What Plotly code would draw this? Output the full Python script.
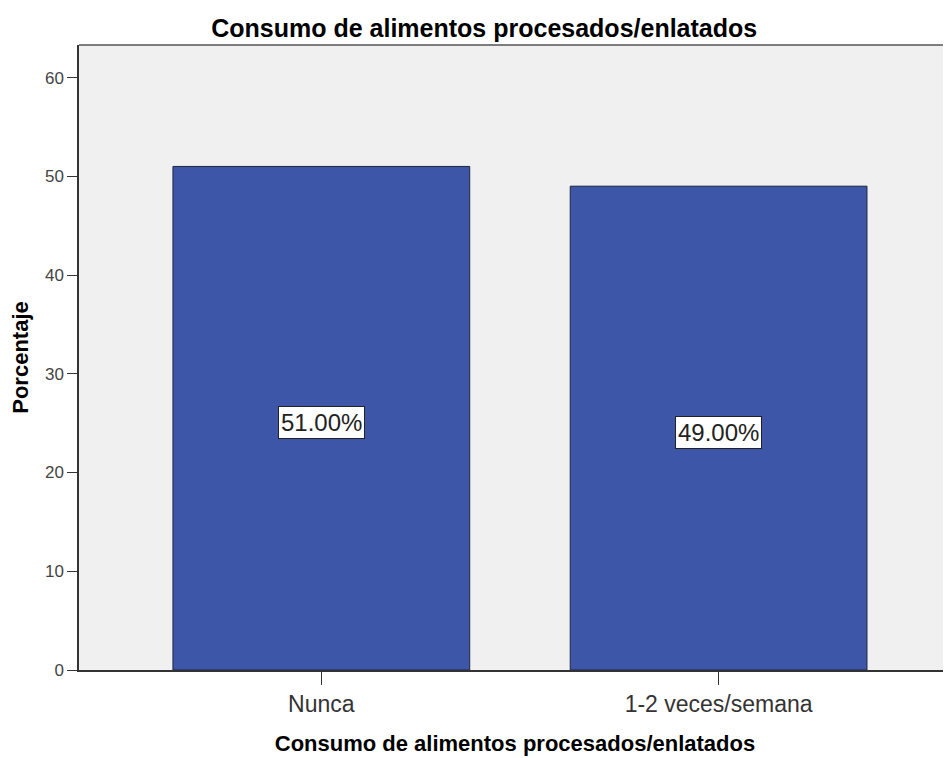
import plotly.graph_objects as go

categories = ["Nunca", "1-2 veces/semana"]
values = [51.0, 49.0]
y_ticks = [0, 10, 20, 30, 40, 50, 60]

W, H = 943, 750  # page body has an 8px margin in the browser

fig = go.Figure()
fig.add_trace(go.Bar(
    x=categories, y=values, width=0.747,
    marker=dict(color="#3E56A8", line=dict(color="#1E2540", width=1)),
    hoverinfo="skip", showlegend=False,
))

for c, v in zip(categories, values):
    fig.add_annotation(
        x=c, y=v / 2, text=f"{v:.2f}%", showarrow=False, yshift=-4,
        font=dict(family="Liberation Sans, Arial", size=24, color="#222"),
        bgcolor="white", bordercolor="#222", borderwidth=1, borderpad=2,
    )

fig.update_layout(
    width=W, height=H,
    margin=dict(l=71, r=0, t=37, b=88),
    paper_bgcolor="white", plot_bgcolor="#F0F0F0",
    title=dict(text="<b>Consumo de alimentos procesados/enlatados</b>",
               x=0.505, xanchor="center", y=1 - 20 / H, yanchor="middle",
               font=dict(family="Liberation Sans, Arial", size=25, color="black")),
    font=dict(family="Liberation Sans, Arial"),
)
fig.update_xaxes(
    range=[-0.61, 1.585], showline=True, linecolor="#333", linewidth=1.5,
    ticks="outside", ticklen=13, tickcolor="#333",
    tickfont=dict(size=23, color="#333"),
    title=dict(text="<b>Consumo de alimentos procesados/enlatados</b>",
               font=dict(size=22, color="black"), standoff=19),
    showgrid=False,
)
fig.update_yaxes(
    range=[0, 63.3], tickvals=y_ticks, showline=True, linecolor="#333", linewidth=1.5,
    ticks="outside", ticklen=10, tickcolor="#333",
    tickfont=dict(size=17, color="#444"),
    title=dict(text="<b>Porcentaje</b>", font=dict(size=22, color="black"), standoff=10),
    showgrid=False, zeroline=False,
)
fig.add_shape(type="line", xref="paper", yref="paper", x0=0, x1=1, y0=1, y1=1,
              line=dict(color="#555", width=1.5))

fig.write_html("out.html")
